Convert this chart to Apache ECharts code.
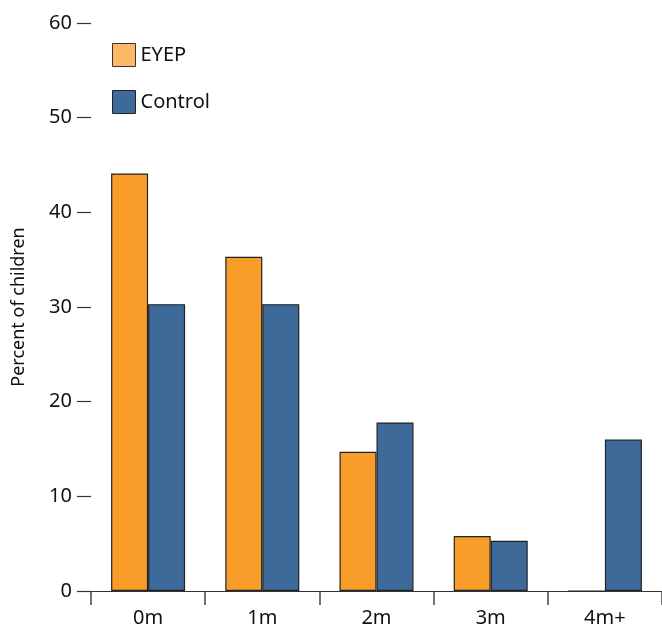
<!DOCTYPE html>
<html><head><meta charset="utf-8">
<script src="https://cdn.jsdelivr.net/npm/echarts@6/dist/echarts.min.js"></script>
<style>html,body{margin:0;padding:0;background:#fff}#c{width:662px;height:628px}</style>
</head><body><div id="c"></div>
<script>
const categories = ['0m', '1m', '2m', '3m', '4m+'];
const eyep = [44.1, 35.3, 14.7, 5.8, 0];
const control = [30.3, 30.3, 17.8, 5.3, 16.0];
const yTicks = [0, 10, 20, 30, 40, 50, 60];

const chart = echarts.init(document.getElementById('c'), null, {renderer: 'canvas'});
const font = 'Noto Sans';
chart.setOption({
  animation: false,
  textStyle: {fontFamily: font},
  legend: {
    orient: 'vertical', left: 107, top: 38, itemWidth: 23, itemHeight: 23, itemGap: 23,
    icon: 'rect',
    textStyle: {fontSize: 20, color: '#111', fontFamily: font},
    data: [
      {name: 'EYEP', icon: 'rect', itemStyle: {color: '#FDB865', borderColor: '#333', borderWidth: 1}},
      {name: 'Control', icon: 'rect', itemStyle: {color: '#3E6A9A', borderColor: '#222', borderWidth: 1}}
    ]
  },
  grid: {left: 91, right: 0, top: 23, bottom: 37, containLabel: false},
  xAxis: {
    type: 'category', data: categories,
    axisLine: {lineStyle: {color: '#333', width: 1.2}},
    axisTick: {show: true, length: 14, alignWithLabel: false, lineStyle: {color: '#444', width: 1.5}},
    axisLabel: {fontSize: 20, color: '#111', margin: 17, fontFamily: font}
  },
  yAxis: {
    type: 'value', min: yTicks[0], max: yTicks[yTicks.length - 1], interval: 10,
    name: 'Percent of children', nameLocation: 'middle', nameGap: 63,
    nameTextStyle: {fontSize: 18, color: '#111', fontFamily: font},
    axisLine: {show: false},
    axisTick: {show: true, length: 14, lineStyle: {color: '#333', width: 1.2}},
    splitLine: {show: false},
    axisLabel: {fontSize: 20, color: '#111', margin: 19, fontFamily: font}
  },
  series: [
    {name: 'EYEP', type: 'bar', data: eyep, barWidth: 37, barGap: '0%',
     itemStyle: {color: '#F99D2A', borderColor: '#222', borderWidth: 1.2}},
    {name: 'Control', type: 'bar', data: control, barWidth: 37, barGap: '0%',
     itemStyle: {color: '#3E6A9A', borderColor: '#222', borderWidth: 1.2}}
  ]
});
</script></body></html>
